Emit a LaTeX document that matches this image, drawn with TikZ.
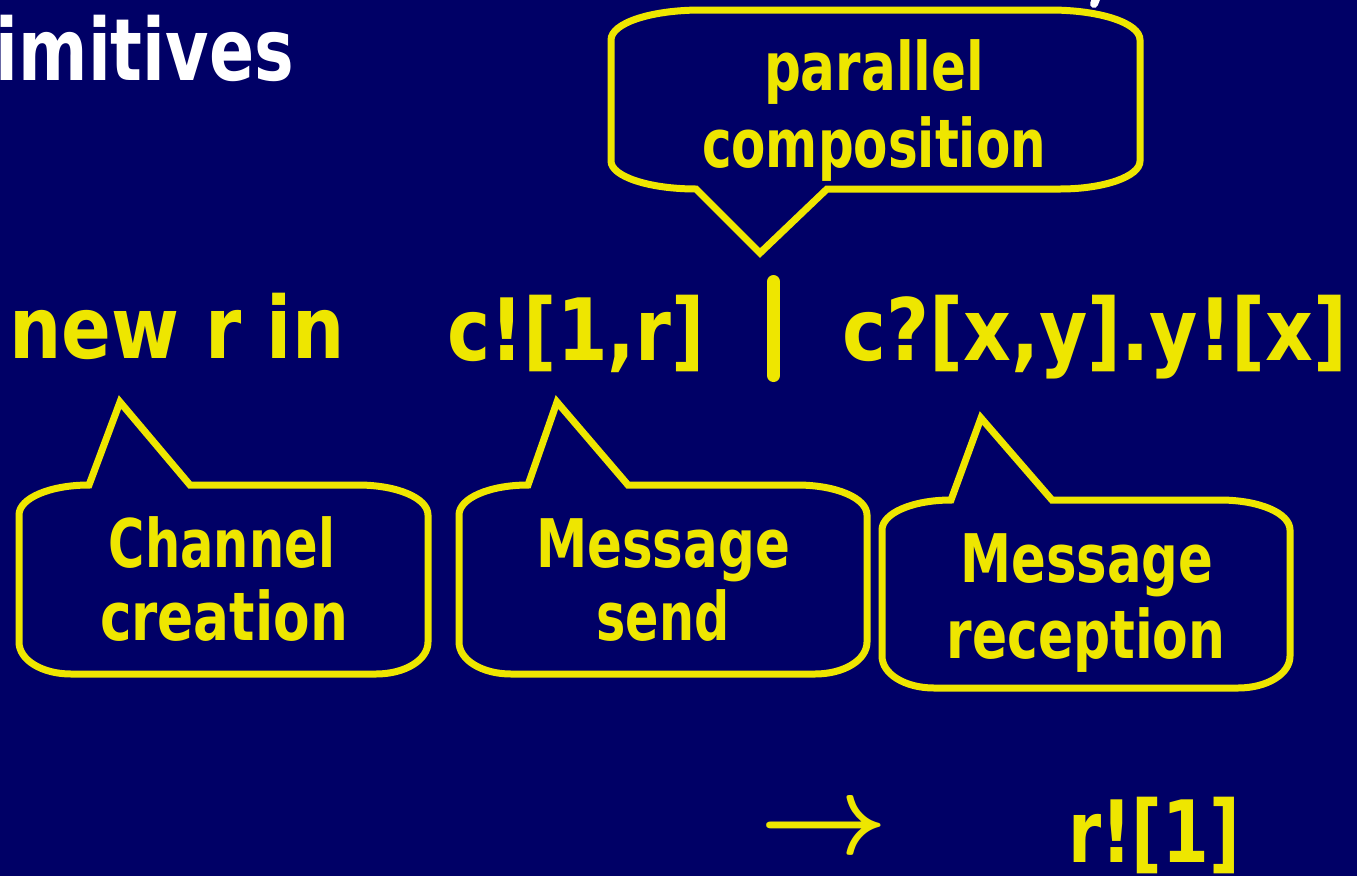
\documentclass[tikz,border=0pt]{standalone}
\usepackage{fontspec}
\setmainfont{DejaVu Sans}
\usepackage{graphicx}
\definecolor{navy}{RGB}{0,0,102}
\definecolor{yel}{RGB}{238,230,0}
\newcommand\fitw[2]{\resizebox{#1pt}{\height}{#2}}
\newcommand\arrowfont{\fontsize{10}{12}\selectfont\boldmath}
% pointer on top: L T R B baseleft baseright tipx tipy
\newcommand\bubup[8]{%
\draw[bub] (#7,#8) -- (#6,#2) -- ({#3-70},#2) .. controls ({#3-31},#2) and (#3,{#2+13}) .. (#3,{#2+30})
  -- (#3,{#4-32}) .. controls (#3,{#4-14}) and ({#3-23},#4) .. ({#3-52},#4)
  -- ({#1+52},#4) .. controls ({#1+23},#4) and (#1,{#4-14}) .. (#1,{#4-32})
  -- (#1,{#2+30}) .. controls (#1,{#2+13}) and ({#1+0.448*(#5-#1)},#2) .. (#5,#2) -- cycle;}
% pointer at bottom
\newcommand\bubdown[8]{%
\draw[bub] (#7,#8) -- (#5,#4) .. controls ({#1+0.448*(#5-#1)},#4) and (#1,{#4-12.5}) .. (#1,{#4-28})
  -- (#1,{#2+30}) .. controls (#1,{#2+13}) and ({#1+40},#2) .. ({#1+90},#2)
  -- ({#3-90},#2) .. controls ({#3-40},#2) and (#3,{#2+13}) .. (#3,{#2+30})
  -- (#3,{#4-28}) .. controls (#3,{#4-12.5}) and ({#3-36},#4) .. ({#3-80},#4)
  -- (#6,#4) -- cycle;}
\begin{document}
\begin{tikzpicture}[x=1pt,y=-1pt,
  bub/.style={draw=yel, line width=7pt, line join=miter, miter limit=20},
  maintxt/.style={text=yel, font=\fontsize{86}{86}\selectfont\bfseries, inner sep=0pt, anchor=base},
  labtxt/.style={text=yel, font=\fontsize{67}{67}\selectfont\bfseries, inner sep=0pt, anchor=base}]
\useasboundingbox (0,0) rectangle (1357,876);
\fill[navy] (0,0) rectangle (1357,876);
% title fragments
\node[text=white, font=\fontsize{86}{86}\selectfont\bfseries, inner sep=0pt, anchor=base east] (title) at (294,80) {\fitw{298}{imitives}};
\draw[white, line width=8pt, line cap=round] (1094,4) -- (1098,-6);
% callouts
\bubdown{611}{10}{1140}{189}{696}{827}{760}{253}
\bubup{19}{485}{428}{674}{89}{190}{120}{402}
\bubup{459}{485}{867}{674}{528}{628}{557}{402}
\bubup{882}{500}{1290}{688}{951}{1052}{981}{418}
% labels
\node[labtxt] (par1) at (874,90) {\fitw{220}{parallel}};
\node[labtxt] (par2) at (874,167) {\fitw{344}{composition}};
\node[labtxt] (ch1) at (222,567) {\fitw{226}{Channel}};
\node[labtxt] (ch2) at (224,640) {\fitw{248}{creation}};
\node[labtxt] (ms1) at (663,567) {\fitw{254}{Message}};
\node[labtxt] (ms2) at (663,640) {\fitw{133}{send}};
\node[labtxt] (mr1) at (1087,582) {\fitw{253}{Message}};
\node[labtxt] (mr2) at (1086,658) {\fitw{279}{reception}};
% main expression
\node[maintxt] (newr) at (177,358) {\fitw{335}{new r in}};
\node[maintxt] (snd) at (576,360) {\fitw{257}{c![1,r]}};
\draw[yel, line width=13pt, line cap=round] (773.5,281.5) coordinate (bartop) -- (773.5,375.5) coordinate (barbot);
\node[maintxt] (recv) at (1095,360) {\fitw{505}{c?[x,y].y![x]}};
\node[text=yel, inner sep=0pt, font=\arrowfont] (arr) at (824,832) {\scalebox{11.2}{$\rightarrow$}};
\node[maintxt] (res) at (1154,862) {\fitw{172}{r![1]}};
\end{tikzpicture}
\end{document}
